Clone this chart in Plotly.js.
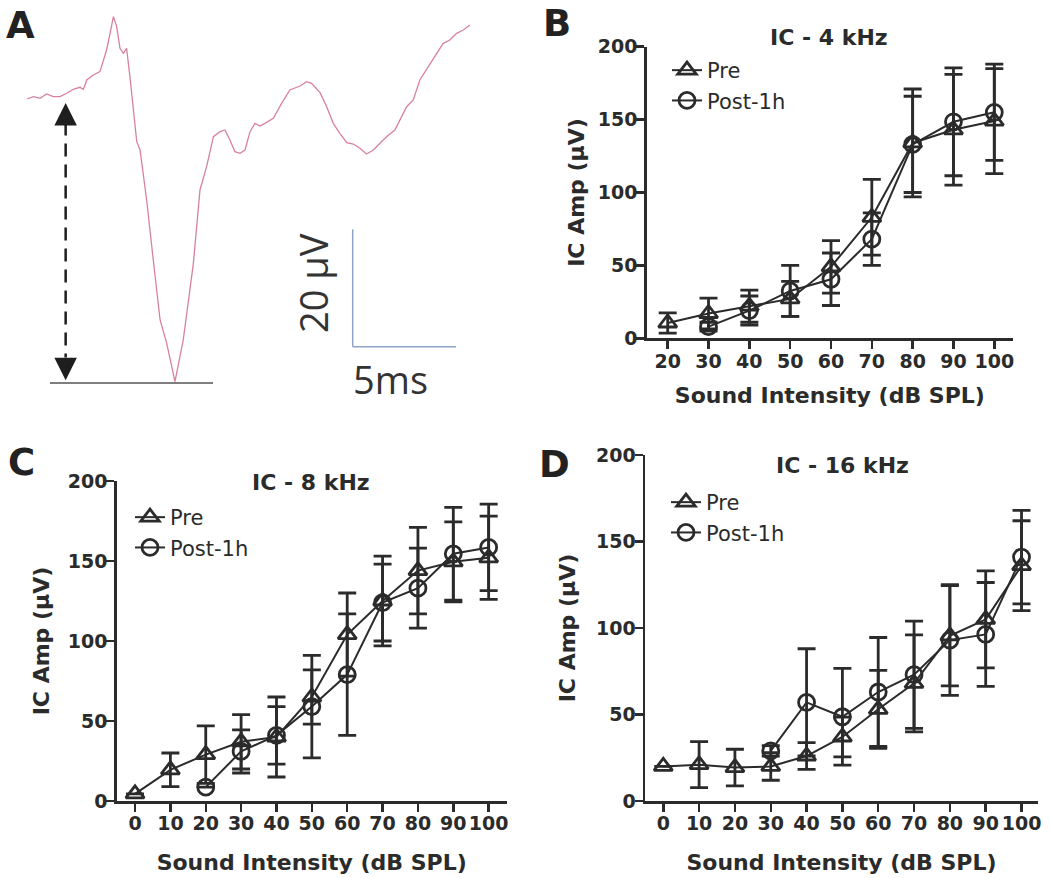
<!DOCTYPE html>
<html>
<head>
<meta charset="utf-8">
<script src="https://cdn.plot.ly/plotly-3.0.1.min.js"></script>
<style>html,body{margin:0;padding:0;background:#fff;}#chart{width:1050px;height:878px;}</style>
</head>
<body>
<div id="chart"></div>
<script>
// ---------- Panel A: example IC response waveform (time in ms, amplitude in µV) ----------
const waveT = [0, 0.31, 0.63, 0.95, 1.27, 1.6, 1.92, 2.24, 2.56, 2.73, 2.89, 3.21, 3.53, 3.69, 3.85, 4.02, 4.18, 4.34, 4.5, 4.66, 4.82, 4.98, 5.14, 5.31, 5.47, 5.79, 6.11, 6.44, 6.76, 7.16, 7.56, 8.05, 8.37, 8.69, 9.02, 9.34, 9.58, 9.82, 10.06, 10.31, 10.55, 10.79, 11.03, 11.27, 11.51, 11.92, 12.32, 12.72, 13.21, 13.53, 13.77, 14.18, 14.5, 14.82, 15.14, 15.47, 15.79, 16.11, 16.43, 16.76, 17.08, 17.4, 17.8, 18.05, 18.37, 18.69, 19.01, 19.42, 19.82, 20.14, 20.46, 20.79, 21.11, 21.43];
const waveV = [0, 0.4, 0.11, 0.85, 0.4, 0.4, 0.97, 1.65, 1.99, 1.65, 3.24, 4.09, 4.66, 6.36, 8.35, 11.19, 14.03, 12.32, 8.63, 7.78, 8.63, 3.8, -1.87, -7.27, -8.69, -17.21, -27.43, -37.65, -41.62, -48.15, -41.06, -28.0, -15.5, -11.53, -6.42, -5.57, -5.28, -6.98, -8.97, -9.26, -8.69, -5.57, -4.15, -4.6, -4.15, -3.29, -0.74, 1.53, 2.21, 2.95, 2.67, 1.08, -1.31, -4.15, -5.85, -7.44, -7.67, -8.4, -9.37, -8.69, -7.55, -6.42, -5.28, -3.58, -1.31, -0.17, 3.24, 5.51, 7.78, 9.48, 10.05, 11.19, 11.75, 12.61];

// ---------- Panel B: IC - 4 kHz ----------
const xB = [20, 30, 40, 50, 60, 70, 80, 90, 100];
const preB = [10.5, 17, 22, 27, 49, 83, 134, 143, 149];
const preBErr = [7, 10.5, 11, 12, 18, 26, 37, 38, 36];
const xBPost = [30, 40, 50, 60, 70, 80, 90, 100];
const postB = [8, 19, 32.5, 40.5, 68, 133, 148.5, 155];
const postBErr = [3, 10, 17.5, 18, 18, 33, 37, 33];

// ---------- Panel C: IC - 8 kHz ----------
const xC = [0, 10, 20, 30, 40, 50, 60, 70, 80, 90, 100];
const preC = [4.5, 19.5, 29, 37, 40, 65, 104, 125, 144, 149.5, 152];
const preCErr = [0, 10.5, 18, 17, 25, 17, 26, 28, 27, 25, 26];
const xCPost = [20, 30, 40, 50, 60, 70, 80, 90, 100];
const postC = [8.7, 31, 41, 59, 79, 124, 133, 154.5, 158.5];
const postCErr = [0, 13.5, 18, 32, 38, 24, 25, 29, 27];

// ---------- Panel D: IC - 16 kHz ----------
const xD = [0, 10, 20, 30, 40, 50, 60, 70, 80, 90, 100];
const preD = [20, 21, 19.3, 20, 26, 37, 53, 68, 95.5, 105, 136];
const preDErr = [0, 13.3, 10.6, 8, 7.7, 11.5, 22.5, 28, 29, 28, 26];
const xDPost = [30, 40, 50, 60, 70, 80, 90, 100];
const postD = [29, 57, 48.7, 63, 73, 93, 96.3, 141];
const postDErr = [3, 31, 28, 31.5, 31, 32, 30, 27];

const seriesNames = ['Pre', 'Post-1h'];
const panelTitles = ['IC - 4 kHz', 'IC - 8 kHz', 'IC - 16 kHz'];
const panelLetters = ['A', 'B', 'C', 'D'];
const xTitle = 'Sound Intensity (dB SPL)';
const yTitle = 'IC Amp (µV)';

// ---------- styling ----------
const W = 1050, H = 878;
const px = v => v / W;
const py = v => 1 - v / H;
const INK = '#2b2b2b';
const FONT = 'DejaVu Sans';

function series(x, y, err, name, sym, xa, ya, legend) {
  return {
    type: 'scatter', mode: 'lines+markers', x: x, y: y, name: name,
    xaxis: xa, yaxis: ya, legend: legend, showlegend: true, cliponaxis: false,
    line: {color: INK, width: 2},
    marker: {symbol: sym, size: 16, color: INK, line: {color: INK, width: 2.8}},
    error_y: {type: 'data', array: err, visible: true, color: INK, thickness: 2.8, width: 9}
  };
}

const traces = [
  {type: 'scatter', mode: 'lines', x: waveT, y: waveV, xaxis: 'x', yaxis: 'y',
   showlegend: false, line: {color: '#d9809f', width: 1.3}, hoverinfo: 'skip'},
  series(xB, preB, preBErr, seriesNames[0], 'triangle-up-open', 'x2', 'y2', 'legend'),
  series(xBPost, postB, postBErr, seriesNames[1], 'circle-open', 'x2', 'y2', 'legend'),
  series(xC, preC, preCErr, seriesNames[0], 'triangle-up-open', 'x3', 'y3', 'legend2'),
  series(xCPost, postC, postCErr, seriesNames[1], 'circle-open', 'x3', 'y3', 'legend2'),
  series(xD, preD, preDErr, seriesNames[0], 'triangle-up-open', 'x4', 'y4', 'legend3'),
  series(xDPost, postD, postDErr, seriesNames[1], 'circle-open', 'x4', 'y4', 'legend3')
];

const tickFont = {family: FONT, size: 19, color: INK, weight: 'bold'};
const titleFont = {family: FONT, size: 22, color: INK, weight: 'bold'};

function xAxis(domain, range, tick0, anchor, standoff) {
  return {
    domain: domain, range: range, anchor: anchor, tickmode: 'linear', tick0: tick0, dtick: 10,
    ticks: 'outside', ticklen: 8, tickwidth: 2.5, tickcolor: INK, tickangle: 0, ticklabelstandoff: -4,
    showline: true, linewidth: 2.5, linecolor: INK, showgrid: false, zeroline: false,
    tickfont: tickFont, fixedrange: true,
    title: {text: xTitle, font: titleFont, standoff: standoff}
  };
}
function yAxis(domain, anchor, standoff) {
  return {
    domain: domain, range: [0, 200], anchor: anchor, tickmode: 'linear', tick0: 0, dtick: 50,
    ticks: 'outside', ticklen: 8, tickwidth: 2.5, tickcolor: INK, ticklabelstandoff: -5,
    showline: true, linewidth: 2.5, linecolor: INK, showgrid: false, zeroline: false,
    tickfont: tickFont, fixedrange: true,
    title: {text: yTitle, font: titleFont, standoff: standoff}
  };
}

const legendBase = {
  orientation: 'v', xanchor: 'left', yanchor: 'top', bgcolor: 'rgba(0,0,0,0)',
  font: {family: FONT, size: 21, color: INK}, itemwidth: 30, tracegroupgap: 0
};

function label(x, y, text, font, extra) {
  return Object.assign({xref: 'paper', yref: 'paper', x: px(x), y: py(y), text: text,
    showarrow: false, xanchor: 'center', yanchor: 'middle', font: font}, extra || {});
}
const letterFont = {family: FONT, size: 37, color: '#222', weight: 'bold'};
const scaleFont = {family: 'Open Sans', size: 38, color: '#333333'};

const layout = {
  width: W, height: H, margin: {l: 0, r: 0, t: 0, b: 0},
  paper_bgcolor: '#ffffff', plot_bgcolor: 'rgba(0,0,0,0)',
  font: {family: FONT, color: INK},
  showlegend: true,
  xaxis: {domain: [px(20), px(480)], range: [-0.339, 21.92], visible: false, anchor: 'y', fixedrange: true},
  yaxis: {domain: [py(400), py(10)], range: [-51.28, 15.16], visible: false, anchor: 'x', fixedrange: true},
  xaxis2: xAxis([px(646.7), px(1013)], [14.86, 104.58], 20, 'y2', 17),
  yaxis2: yAxis([py(338.3), py(46.7)], 'x2', 7),
  xaxis3: xAxis([px(116.7), px(506.7)], [-5.18, 105.1], 0, 'y3', 22),
  yaxis3: yAxis([py(801), py(481)], 'x3', 12),
  xaxis4: xAxis([px(645), px(1038)], [-5.1, 104.6], 0, 'y4', 22),
  yaxis4: yAxis([py(801), py(455)], 'x4', 15),
  legend: Object.assign({}, legendBase, {x: px(667), y: py(50)}),
  legend2: Object.assign({}, legendBase, {x: px(130), y: py(497)}),
  legend3: Object.assign({}, legendBase, {x: px(666), y: py(482)}),
  shapes: [
    // dashed amplitude arrow shaft
    {type: 'line', xref: 'x', yref: 'y', x0: 1.87, x1: 1.87, y0: -4, y1: -44,
     line: {color: '#1e1e1e', width: 2.5, dash: '13px,8px'}},
    // trough reference line
    {type: 'line', xref: 'x', yref: 'y', x0: 1.11, x1: 9.0, y0: -48.4, y1: -48.4,
     line: {color: '#555555', width: 1.5}},
    // scale bars: 5 ms and 20 µV
    {type: 'line', xref: 'x', yref: 'y', x0: 15.76, x1: 15.76, y0: -42.2, y1: -22.2,
     line: {color: '#8fa3c9', width: 1.5}},
    {type: 'line', xref: 'x', yref: 'y', x0: 15.76, x1: 20.76, y0: -42.2, y1: -42.2,
     line: {color: '#8fa3c9', width: 1.5}}
  ],
  annotations: [
    // arrowheads
    {xref: 'x', yref: 'y', x: 1.87, y: -0.7, ax: 0, ay: 24, text: '', showarrow: true,
     arrowhead: 2, arrowsize: 1.8, arrowwidth: 2.5, arrowcolor: '#1e1e1e'},
    {xref: 'x', yref: 'y', x: 1.87, y: -47.9, ax: 0, ay: -24, text: '', showarrow: true,
     arrowhead: 2, arrowsize: 1.8, arrowwidth: 2.5, arrowcolor: '#1e1e1e'},
    // scale bar labels
    label(313, 283, '20 µV', scaleFont, {textangle: -90}),
    label(390, 379, '5ms', scaleFont),
    // panel letters
    label(20, 25, panelLetters[0], letterFont),
    label(557, 23, panelLetters[1], letterFont),
    label(21, 462, panelLetters[2], letterFont),
    label(554, 464, panelLetters[3], letterFont),
    // panel titles
    label(829, 37, panelTitles[0], titleFont),
    label(311, 482, panelTitles[1], titleFont),
    label(842, 465, panelTitles[2], titleFont)
  ]
};

Plotly.newPlot('chart', traces, layout, {displayModeBar: false, staticPlot: true});
</script>
</body>
</html>
